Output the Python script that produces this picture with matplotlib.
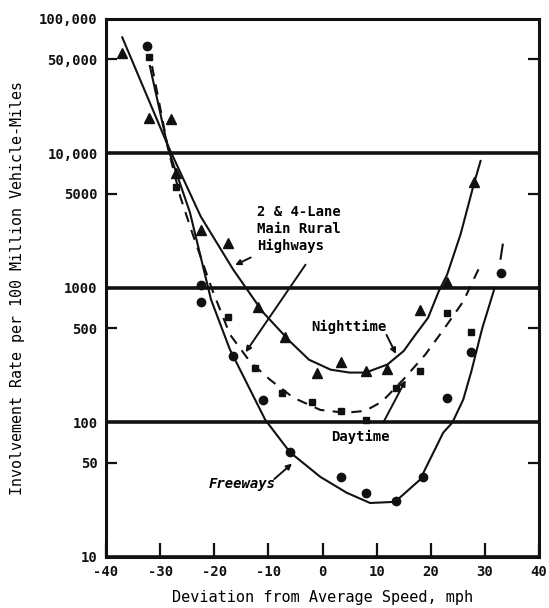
import numpy as np
import matplotlib.pyplot as plt

# speed deviation (mph) and involvement rate per 100 million vehicle-miles
night_x = [-37, -32, -28, -27, -22.5, -17.5, -12, -7, -1, 3.5, 8, 12, 18, 23, 28]
night_y = [56000, 18500, 18000, 7200, 2700, 2150, 720, 430, 235, 280, 240, 250, 690, 1100, 6100]

day_x = [-32, -27, -17.5, -12.5, -7.5, -2, 3.5, 8, 13.5, 18, 23, 27.5]
day_y = [52000, 5600, 610, 255, 165, 142, 122, 105, 180, 240, 650, 470]

free_x = [-32.5, -22.5, -22.5, -16.5, -11, -6, 3.5, 8, 13.5, 18.5, 23, 27.5, 33]
free_y = [63000, 1060, 780, 310, 147, 60, 39, 30, 26, 39, 153, 336, 1300]

# hand-drawn curves
night_curve_x = [-37, -28.5, -22.5, -16.5, -11, -6, -2.5, 1.5, 5, 8, 12, 15, 17, 19.5, 21.5, 23, 25.5, 28, 29.2]
night_curve_y = [73000, 11300, 3400, 1370, 660, 400, 293, 247, 235, 235, 270, 340, 440, 600, 950, 1250, 2500, 6000, 8800]

day_curve_x = [-31.5, -28.5, -26.3, -24.1, -20.4, -17.1, -13.4, -9.7, -5.4, -0.4, 4.2, 7.9, 11, 14.9, 19, 22.1, 26, 28.9]
day_curve_y = [44700, 10760, 4800, 2590, 975, 451, 283, 208, 153, 124, 118, 122, 143, 208, 320, 474, 793, 1400]

free_curve_x = [-31.9, -28.5, -24.5, -20.6, -17.1, -10.6, -6, -0.4, 4.5, 8.8, 13.4, 18, 22.3, 24, 26, 27.5, 29.5, 31.8]
free_curve_y = [44700, 10760, 3650, 820, 348, 105, 60, 39.4, 30, 25.2, 25.7, 37.5, 84, 100, 148, 240, 500, 1000]
free_ext_x = [32.9, 33.3]
free_ext_y = [1650, 2100]

x_ticks = [-40, -30, -20, -10, 0, 10, 20, 30, 40]
y_major = [10, 100, 1000, 10000, 100000]
y_major_labels = ["10", "100", "1000", "10,000", "100,000"]
y_minor = [50, 500, 5000, 50000]
y_minor_labels = ["50", "500", "5000", "50,000"]

plt.rcParams['font.family'] = ['DejaVu Sans Mono']
plt.rcParams['font.weight'] = 'bold'
ink = "#111111"

fig = plt.figure(figsize=(5.49, 6.08), dpi=100)
ax = fig.add_axes([0.1931, 0.0839, 0.7887, 0.8849])

ax.set_yscale('log')
ax.set_xlim(-40, 40)
ax.set_ylim(10, 100000)

# curves
ax.plot(night_curve_x, night_curve_y, '-', color=ink, lw=1.5)
ax.plot(day_curve_x, day_curve_y, color=ink, lw=1.5, dashes=(5, 4))
ax.plot(free_curve_x, free_curve_y, '-', color=ink, lw=1.5)
ax.plot(free_ext_x, free_ext_y, '-', color=ink, lw=1.5)

# data points
ax.plot(night_x, night_y, '^', color=ink, ms=6.5, ls='none')
ax.plot(day_x, day_y, 's', color=ink, ms=5, ls='none')
ax.plot(free_x, free_y, 'o', color=ink, ms=6, ls='none')

# axes and ticks
ax.set_xticks(x_ticks)
ax.set_xticklabels([str(v) for v in x_ticks])
ax.set_yticks(y_major)
ax.set_yticklabels(y_major_labels)
ax.set_yticks(y_minor, minor=True)
ax.set_yticklabels(y_minor_labels, minor=True)
ax.yaxis.grid(True, which='major', color=ink, lw=2.6)
ax.tick_params(axis='x', direction='in', length=10, width=1.6, labelsize=10, pad=6, colors=ink)
ax.tick_params(axis='y', which='major', direction='in', length=0, labelsize=10, pad=6, colors=ink)
ax.tick_params(axis='y', which='minor', direction='in', length=8, width=1.6, labelsize=10,
               pad=6, right=True, colors=ink)
for s in ax.spines.values():
    s.set_linewidth(2.2)
    s.set_color(ink)

ax.set_xlabel("Deviation from Average Speed, mph", fontsize=11, labelpad=8)
ax.set_ylabel("Involvement Rate per 100 Million Vehicle-Miles", fontsize=10.8, labelpad=10)

# labels with arrows
arrow = dict(arrowstyle='-|>', color=ink, lw=1.4, mutation_scale=8)
ax.text(-12.1, 2730, "2 & 4-Lane\nMain Rural\nHighways", ha='left', va='center',
        fontsize=10, linespacing=1.25)
ax.annotate("", xy=(-16.6, 1450), xytext=(-12.8, 1720), arrowprops=arrow)
ax.annotate("", xy=(-14.5, 320), xytext=(-2.85, 1550), arrowprops=arrow)

ax.text(4.9, 516, "Nighttime", ha='center', va='center', fontsize=10)
ax.annotate("", xy=(13.8, 310), xytext=(11.6, 467), arrowprops=arrow)

ax.text(7.0, 78, "Daytime", ha='center', va='center', fontsize=10)
ax.annotate("", xy=(15.6, 215), xytext=(11.0, 96), arrowprops=arrow)

ax.text(-14.9, 35, "Freeways", ha='center', va='center', fontsize=10, style='italic')
ax.annotate("", xy=(-5.25, 51), xytext=(-9.3, 36.8), arrowprops=arrow)

fig.savefig("out.png", dpi=100)
